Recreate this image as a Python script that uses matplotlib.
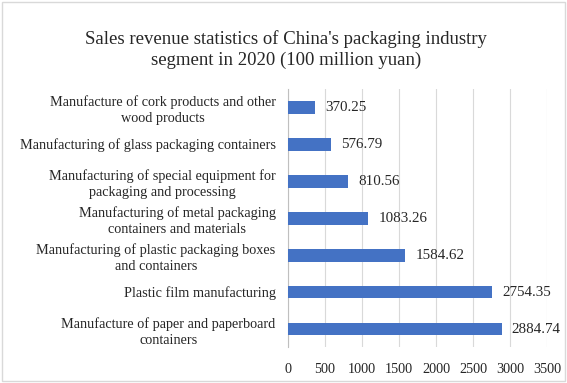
import matplotlib
matplotlib.use("Agg")
import matplotlib.pyplot as plt
from matplotlib.patches import Rectangle

categories = [
    "Manufacture of paper and paperboard\ncontainers",
    "Plastic film manufacturing",
    "Manufacturing of plastic packaging boxes\nand containers",
    "Manufacturing of metal packaging\ncontainers and materials",
    "Manufacturing of special equipment for\npackaging and processing",
    "Manufacturing of glass packaging containers",
    "Manufacture of cork products and other\nwood products",
]
values = [2884.74, 2754.35, 1584.62, 1083.26, 810.56, 576.79, 370.25]
xticks = [0, 500, 1000, 1500, 2000, 2500, 3000, 3500]
title = "Sales revenue statistics of China's packaging industry\nsegment in 2020 (100 million yuan)"

plt.rcParams['font.family'] = ['Liberation Serif', 'DejaVu Serif']

fig = plt.figure(figsize=(5.67, 3.83), dpi=100)
fig.patches.append(Rectangle((0.004, 0.004), 0.992, 0.992, transform=fig.transFigure,
                             fill=False, edgecolor='#d9d9d9', linewidth=1.0))
ax = fig.add_axes([0.508, 0.0927, 0.457, 0.676])

y = list(range(len(categories)))
ax.barh(y, values, height=0.35, color='#4472C4', zorder=3)
for yi, v in zip(y, values):
    ax.annotate(f"{v:.2f}", xy=(v, yi), xytext=(10, 0), textcoords='offset pixels',
                va='center', ha='left', fontsize=10.8, color='#262626')

ax.set_xlim(0, 3500)
ax.set_ylim(-0.5, len(categories) - 0.5)
ax.set_xticks(xticks)
ax.set_xticklabels([str(t) for t in xticks], fontsize=10.3, color='#262626')
ax.set_yticks(y)
ax.set_yticklabels(categories, fontsize=10.3, color='#262626', multialignment='center',
                   linespacing=1.3)
ax.tick_params(axis='both', length=0)
ax.tick_params(axis='x', pad=11)
ax.tick_params(axis='y', pad=9)
ax.grid(axis='x', color='#d9d9d9', linewidth=0.8, zorder=0)
for s in ['top', 'right', 'bottom']:
    ax.spines[s].set_visible(False)
ax.spines['left'].set_color('#bfbfbf')
ax.spines['left'].set_linewidth(0.8)

fig.text(0.505, 0.87, title, ha='center', va='center', fontsize=13.5, color='#262626', linespacing=1.25)

fig.savefig("out.png", dpi=100)
